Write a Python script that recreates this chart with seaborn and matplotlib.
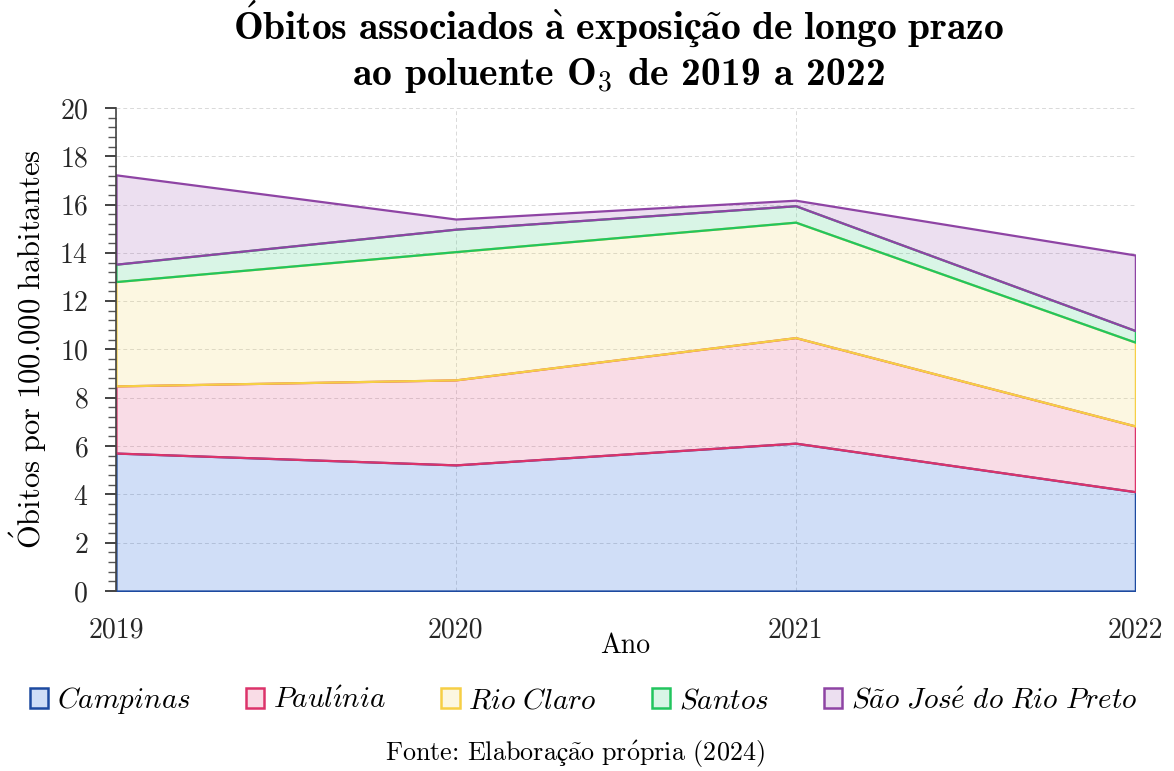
import matplotlib
matplotlib.use('Agg')
import matplotlib.pyplot as plt
import matplotlib.colors as mcolors
import numpy as np
import pandas as pd
import seaborn as sns
from matplotlib.patches import Patch
from matplotlib.ticker import MultipleLocator

sns.set_theme(style='white')
plt.rcParams['font.family'] = ['cmr10', 'STIXGeneral']
plt.rcParams['axes.formatter.use_mathtext'] = True
plt.rcParams['mathtext.fontset'] = 'cm'

# dados (óbitos por 100.000 habitantes)
anos = [2019, 2020, 2021, 2022]
campinas = [5.71, 5.22, 6.12, 4.11]
paulinia = [2.78, 3.52, 4.37, 2.72]
rio_claro = [4.32, 5.31, 4.78, 3.47]
santos = [0.72, 0.93, 0.68, 0.48]
sjrp = [3.70, 0.42, 0.23, 3.13]

cidades = ['Campinas', 'Paulínia', 'Rio Claro', 'Santos', 'São José do Rio Preto']
bordas = ['#1d4aa0', '#dc336a', '#f6cf45', '#22c55e', '#8e44a4']
bases = ['#145ad7', '#e15082', '#f0d769', '#41cd82', '#a05fb4']
preench = [mcolors.to_rgba(c, 0.2) for c in bases]

df = pd.DataFrame({'Ano': anos, 'Campinas': campinas, 'Paulínia': paulinia,
                   'Rio Claro': rio_claro, 'Santos': santos,
                   'São José do Rio Preto': sjrp})


def tex(s, fonte='rm'):
    # cmr10 nao tem letras acentuadas: monta os acentos em mathtext
    trocas = {'Ó': r'\acute{O}', 'à': r'\grave{a}', 'ã': r'\tilde{a}', 'é': r'\acute{e}',
              'í': r'\acute{\imath}', 'ó': r'\acute{o}', ' ': r'\ '}
    corpo = ''.join(trocas.get(c, c) for c in s)
    return r'$\math%s{%s}$' % (fonte, corpo)


fig = plt.figure(figsize=(11.74, 7.71), dpi=100)
ax = fig.add_axes([0.0988, 0.2335, 0.8683, 0.6265])

polys = ax.stackplot(df['Ano'], [df[c] for c in cidades])
for p, fc, ec in zip(polys, preench, bordas):
    p.set_facecolor(fc)
    p.set_edgecolor(ec)
    p.set_linewidth(1.6)

ax.set_xlim(2019, 2022)
ax.set_ylim(0, 20)
ax.set_xticks(anos)
ax.set_xticklabels([str(a) for a in anos])
ax.yaxis.set_major_locator(MultipleLocator(2))
ax.yaxis.set_minor_locator(MultipleLocator(0.4))
ax.tick_params(axis='y', which='major', direction='out', length=8, width=1.2,
               color='#222222', labelsize=20, pad=12, left=True)
ax.tick_params(axis='y', which='minor', direction='out', length=6, width=1.0,
               color='#555555', left=True)
ax.tick_params(axis='x', length=0, labelsize=20, pad=19)

ax.grid(True, which='major', linestyle=(0, (4, 3)), color='#d9d9d9', linewidth=0.7)
ax.set_axisbelow(True)
for s in ['top', 'right', 'bottom']:
    ax.spines[s].set_visible(False)
ax.spines['left'].set_color('#444444')
ax.spines['left'].set_linewidth(1.2)

ax.set_ylabel(tex('Óbitos por 100.000 habitantes'), fontsize=22, labelpad=7, color='black')
ax.set_xlabel('Ano', fontsize=20, labelpad=-8, color='black')

titulo = tex('Óbitos associados à exposição de longo prazo', 'bf') + '\n' + \
    'ao poluente O$_3$ de 2019 a 2022'
fig.suptitle(titulo, x=0.527, y=1.002, fontsize=28.5, linespacing=1.22, color='black',
             fontfamily=['cmb10', 'STIXGeneral'])

handles = [Patch(facecolor=f, edgecolor=e, linewidth=1.8) for f, e in zip(preench, bordas)]
rotulos = [tex(c, 'it') for c in cidades]
leg = fig.legend(handles, rotulos, loc='center', bbox_to_anchor=(0.497, 0.091), ncol=5,
                 frameon=False, handlelength=0.64, handleheight=0.64, handletextpad=0.3,
                 columnspacing=1.88, prop={'size': 21})
for t in leg.get_texts():
    t.set_color('black')

fig.text(0.49, 0.021, r'Fonte: Elabora$\mathrm{ç\tilde{a}o\ pr\acute{o}pria}$ (2024)',
         ha='center', va='center', fontsize=18.8, color='black')

fig.savefig('out.png', dpi=100)
